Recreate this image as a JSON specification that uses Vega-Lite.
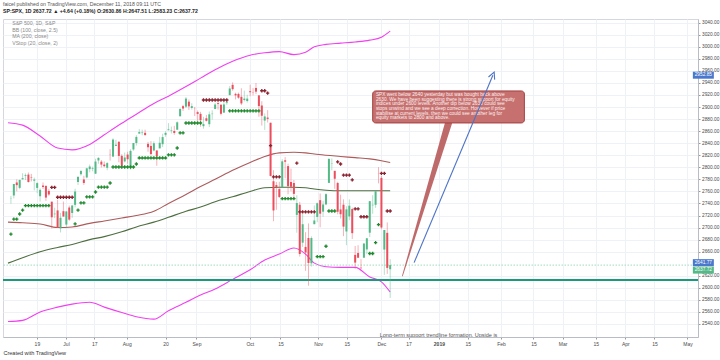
{
  "$schema": "https://vega.github.io/schema/vega-lite/v6.json",
  "width": 695,
  "height": 318,
  "autosize": {"type": "none"},
  "padding": {"left": 3, "top": 19, "right": 22, "bottom": 23},
  "background": "#ffffff",
  "config": {
    "font": "Liberation Sans",
    "view": {"stroke": "#d4d7dd", "strokeWidth": 1},
    "axis": {"labelOverlap": false, "labelFlush": false, "labelBound": false}
  },
  "title": {
    "text": "faicel published on TradingView.com, December 11, 2018 09:11 UTC",
    "subtitle": "SP:SPX, 1D  2637.72 \u25b2 +4.64 (+0.18%)  O:2630.86 H:2647.51 L:2583.23 C:2637.72",
    "anchor": "start",
    "frame": "group",
    "fontSize": 5.2,
    "fontWeight": "normal",
    "color": "#555555",
    "subtitleFontSize": 5.2,
    "subtitleFontWeight": "bold",
    "subtitleColor": "#222222",
    "subtitlePadding": 1.5,
    "offset": 5
  },
  "datasets": {
    "candles": [
      {"i": -10, "d": "2018-06-05", "o": 2748.46, "h": 2752.61, "l": 2739.51, "c": 2748.80, "vs": 2689, "vt": "up"},
      {"i": -9, "d": "2018-06-06", "o": 2753.25, "h": 2772.39, "l": 2748.46, "c": 2772.35, "vs": 2714, "vt": "up"},
      {"i": -8, "d": "2018-06-07", "o": 2774.84, "h": 2779.90, "l": 2760.16, "c": 2770.37, "vs": 2714, "vt": "up"},
      {"i": -7, "d": "2018-06-08", "o": 2765.84, "h": 2779.39, "l": 2763.59, "c": 2779.03, "vs": 2722.5, "vt": "up"},
      {"i": -6, "d": "2018-06-11", "o": 2780.18, "h": 2790.21, "l": 2779.39, "c": 2782.00, "vs": 2729, "vt": "up"},
      {"i": -5, "d": "2018-06-12", "o": 2785.60, "h": 2789.80, "l": 2778.78, "c": 2786.85, "vs": 2736.3, "vt": "up"},
      {"i": -4, "d": "2018-06-13", "o": 2787.94, "h": 2791.47, "l": 2774.65, "c": 2775.63, "vs": 2736.3, "vt": "up"},
      {"i": -3, "d": "2018-06-14", "o": 2783.21, "h": 2789.06, "l": 2776.52, "c": 2782.49, "vs": 2736.3, "vt": "up"},
      {"i": -2, "d": "2018-06-15", "o": 2777.78, "h": 2782.81, "l": 2761.73, "c": 2779.66, "vs": 2736.3, "vt": "up"},
      {"i": -1, "d": "2018-06-18", "o": 2765.79, "h": 2774.99, "l": 2757.12, "c": 2773.75, "vs": 2736.3, "vt": "up"},
      {"i": 0, "d": "2018-06-19", "o": 2752.01, "h": 2765.05, "l": 2743.19, "c": 2762.59, "vs": 2736.3, "vt": "up"},
      {"i": 1, "d": "2018-06-20", "o": 2769.73, "h": 2774.86, "l": 2763.91, "c": 2767.32, "vs": 2736.3, "vt": "up"},
      {"i": 2, "d": "2018-06-21", "o": 2769.28, "h": 2769.28, "l": 2744.39, "c": 2749.76, "vs": 2736.3, "vt": "up"},
      {"i": 3, "d": "2018-06-22", "o": 2760.79, "h": 2764.17, "l": 2752.68, "c": 2754.88, "vs": 2736.3, "vt": "up"},
      {"i": 4, "d": "2018-06-25", "o": 2742.94, "h": 2742.94, "l": 2698.67, "c": 2717.07, "vs": 2766.8, "vt": "down"},
      {"i": 5, "d": "2018-06-26", "o": 2722.12, "h": 2732.91, "l": 2715.60, "c": 2723.06, "vs": 2766.8, "vt": "down"},
      {"i": 6, "d": "2018-06-27", "o": 2728.45, "h": 2746.09, "l": 2699.38, "c": 2699.63, "vs": 2750.3, "vt": "down"},
      {"i": 7, "d": "2018-06-28", "o": 2698.69, "h": 2724.34, "l": 2691.99, "c": 2716.31, "vs": 2750.3, "vt": "down"},
      {"i": 8, "d": "2018-06-29", "o": 2727.13, "h": 2743.26, "l": 2718.03, "c": 2718.37, "vs": 2750.3, "vt": "down"},
      {"i": 9, "d": "2018-07-02", "o": 2704.95, "h": 2727.26, "l": 2698.95, "c": 2726.71, "vs": 2750.3, "vt": "down"},
      {"i": 10, "d": "2018-07-03", "o": 2733.27, "h": 2736.58, "l": 2711.16, "c": 2713.22, "vs": 2750.3, "vt": "down"},
      {"i": 11, "d": "2018-07-05", "o": 2724.19, "h": 2737.83, "l": 2716.02, "c": 2736.61, "vs": 2750.3, "vt": "down"},
      {"i": 12, "d": "2018-07-06", "o": 2737.68, "h": 2764.41, "l": 2733.52, "c": 2759.82, "vs": 2706, "vt": "up"},
      {"i": 13, "d": "2018-07-09", "o": 2775.62, "h": 2784.65, "l": 2770.73, "c": 2784.17, "vs": 2729, "vt": "up"},
      {"i": 14, "d": "2018-07-10", "o": 2788.56, "h": 2795.58, "l": 2786.24, "c": 2793.84, "vs": 2741, "vt": "up"},
      {"i": 15, "d": "2018-07-11", "o": 2779.82, "h": 2785.91, "l": 2770.77, "c": 2774.02, "vs": 2741, "vt": "up"},
      {"i": 16, "d": "2018-07-12", "o": 2783.14, "h": 2799.22, "l": 2781.53, "c": 2798.29, "vs": 2750.8, "vt": "up"},
      {"i": 17, "d": "2018-07-13", "o": 2796.93, "h": 2804.53, "l": 2791.69, "c": 2801.31, "vs": 2750.8, "vt": "up"},
      {"i": 18, "d": "2018-07-16", "o": 2797.36, "h": 2801.19, "l": 2793.39, "c": 2798.43, "vs": 2750.8, "vt": "up"},
      {"i": 19, "d": "2018-07-17", "o": 2789.34, "h": 2814.19, "l": 2789.24, "c": 2809.55, "vs": 2759, "vt": "up"},
      {"i": 20, "d": "2018-07-18", "o": 2811.35, "h": 2816.76, "l": 2805.89, "c": 2815.62, "vs": 2767, "vt": "up"},
      {"i": 21, "d": "2018-07-19", "o": 2809.37, "h": 2812.05, "l": 2799.77, "c": 2804.49, "vs": 2767, "vt": "up"},
      {"i": 22, "d": "2018-07-20", "o": 2804.55, "h": 2809.70, "l": 2800.01, "c": 2801.83, "vs": 2767, "vt": "up"},
      {"i": 23, "d": "2018-07-23", "o": 2799.17, "h": 2808.61, "l": 2795.14, "c": 2806.98, "vs": 2767, "vt": "up"},
      {"i": 24, "d": "2018-07-24", "o": 2820.68, "h": 2829.99, "l": 2811.12, "c": 2820.40, "vs": 2774, "vt": "up"},
      {"i": 25, "d": "2018-07-25", "o": 2817.73, "h": 2848.03, "l": 2817.73, "c": 2846.07, "vs": 2800.5, "vt": "up"},
      {"i": 26, "d": "2018-07-26", "o": 2835.49, "h": 2845.57, "l": 2835.26, "c": 2837.44, "vs": 2800.5, "vt": "up"},
      {"i": 27, "d": "2018-07-27", "o": 2842.35, "h": 2843.17, "l": 2808.34, "c": 2818.82, "vs": 2800.5, "vt": "up"},
      {"i": 28, "d": "2018-07-30", "o": 2819.00, "h": 2821.74, "l": 2798.11, "c": 2802.60, "vs": 2800.5, "vt": "up"},
      {"i": 29, "d": "2018-07-31", "o": 2809.73, "h": 2824.46, "l": 2808.06, "c": 2816.29, "vs": 2800.5, "vt": "up"},
      {"i": 30, "d": "2018-08-01", "o": 2821.17, "h": 2825.83, "l": 2805.85, "c": 2813.36, "vs": 2800.5, "vt": "up"},
      {"i": 31, "d": "2018-08-02", "o": 2800.48, "h": 2829.91, "l": 2796.34, "c": 2827.22, "vs": 2800.5, "vt": "up"},
      {"i": 32, "d": "2018-08-03", "o": 2829.62, "h": 2840.38, "l": 2827.37, "c": 2840.35, "vs": 2800.5, "vt": "up"},
      {"i": 33, "d": "2018-08-06", "o": 2840.29, "h": 2853.29, "l": 2835.98, "c": 2850.40, "vs": 2805.5, "vt": "up"},
      {"i": 34, "d": "2018-08-07", "o": 2855.92, "h": 2863.43, "l": 2855.92, "c": 2858.45, "vs": 2815.5, "vt": "up"},
      {"i": 35, "d": "2018-08-08", "o": 2856.79, "h": 2862.44, "l": 2853.09, "c": 2857.70, "vs": 2815.5, "vt": "up"},
      {"i": 36, "d": "2018-08-09", "o": 2857.19, "h": 2862.48, "l": 2851.98, "c": 2853.58, "vs": 2815.5, "vt": "up"},
      {"i": 37, "d": "2018-08-10", "o": 2838.90, "h": 2842.20, "l": 2825.81, "c": 2833.28, "vs": 2815.5, "vt": "up"},
      {"i": 38, "d": "2018-08-13", "o": 2835.46, "h": 2843.40, "l": 2819.88, "c": 2821.93, "vs": 2815.5, "vt": "up"},
      {"i": 39, "d": "2018-08-14", "o": 2827.88, "h": 2843.11, "l": 2826.58, "c": 2839.96, "vs": 2815.5, "vt": "up"},
      {"i": 40, "d": "2018-08-15", "o": 2827.95, "h": 2827.95, "l": 2802.49, "c": 2818.37, "vs": 2815.5, "vt": "up"},
      {"i": 41, "d": "2018-08-16", "o": 2831.44, "h": 2850.49, "l": 2831.44, "c": 2840.69, "vs": 2815.5, "vt": "up"},
      {"i": 42, "d": "2018-08-17", "o": 2838.32, "h": 2855.63, "l": 2833.73, "c": 2850.13, "vs": 2815.5, "vt": "up"},
      {"i": 43, "d": "2018-08-20", "o": 2853.93, "h": 2859.76, "l": 2850.62, "c": 2857.05, "vs": 2815.5, "vt": "up"},
      {"i": 44, "d": "2018-08-21", "o": 2861.51, "h": 2873.23, "l": 2861.32, "c": 2862.96, "vs": 2820.5, "vt": "up"},
      {"i": 45, "d": "2018-08-22", "o": 2860.99, "h": 2867.54, "l": 2856.05, "c": 2861.82, "vs": 2820.5, "vt": "up"},
      {"i": 46, "d": "2018-08-23", "o": 2860.29, "h": 2868.78, "l": 2854.03, "c": 2856.98, "vs": 2820.5, "vt": "up"},
      {"i": 47, "d": "2018-08-24", "o": 2862.35, "h": 2876.16, "l": 2862.35, "c": 2874.69, "vs": 2832, "vt": "up"},
      {"i": 48, "d": "2018-08-27", "o": 2884.69, "h": 2898.25, "l": 2884.69, "c": 2896.74, "vs": 2857, "vt": "up"},
      {"i": 49, "d": "2018-08-28", "o": 2901.45, "h": 2903.77, "l": 2893.50, "c": 2897.52, "vs": 2857, "vt": "up"},
      {"i": 50, "d": "2018-08-29", "o": 2900.62, "h": 2916.50, "l": 2898.40, "c": 2914.04, "vs": 2873.5, "vt": "up"},
      {"i": 51, "d": "2018-08-30", "o": 2908.94, "h": 2912.46, "l": 2895.22, "c": 2901.13, "vs": 2873.5, "vt": "up"},
      {"i": 52, "d": "2018-08-31", "o": 2898.37, "h": 2906.32, "l": 2895.77, "c": 2901.52, "vs": 2873.5, "vt": "up"},
      {"i": 53, "d": "2018-09-04", "o": 2896.96, "h": 2900.18, "l": 2885.13, "c": 2896.72, "vs": 2873.5, "vt": "up"},
      {"i": 54, "d": "2018-09-05", "o": 2891.59, "h": 2894.21, "l": 2876.92, "c": 2888.60, "vs": 2873.5, "vt": "up"},
      {"i": 55, "d": "2018-09-06", "o": 2888.64, "h": 2892.05, "l": 2867.29, "c": 2878.05, "vs": 2873.5, "vt": "up"},
      {"i": 56, "d": "2018-09-07", "o": 2868.26, "h": 2883.81, "l": 2864.12, "c": 2871.68, "vs": 2911.7, "vt": "down"},
      {"i": 57, "d": "2018-09-10", "o": 2881.39, "h": 2886.93, "l": 2875.94, "c": 2877.13, "vs": 2911.7, "vt": "down"},
      {"i": 58, "d": "2018-09-11", "o": 2871.57, "h": 2892.52, "l": 2866.78, "c": 2887.89, "vs": 2911.7, "vt": "down"},
      {"i": 59, "d": "2018-09-12", "o": 2888.29, "h": 2894.65, "l": 2879.20, "c": 2888.92, "vs": 2911.7, "vt": "down"},
      {"i": 60, "d": "2018-09-13", "o": 2896.85, "h": 2906.76, "l": 2896.39, "c": 2904.18, "vs": 2911.7, "vt": "down"},
      {"i": 61, "d": "2018-09-14", "o": 2906.38, "h": 2908.30, "l": 2895.77, "c": 2904.98, "vs": 2911.7, "vt": "down"},
      {"i": 62, "d": "2018-09-17", "o": 2903.83, "h": 2904.65, "l": 2886.16, "c": 2888.80, "vs": 2911.7, "vt": "down"},
      {"i": 63, "d": "2018-09-18", "o": 2890.74, "h": 2911.17, "l": 2890.43, "c": 2904.31, "vs": 2911.7, "vt": "down"},
      {"i": 64, "d": "2018-09-19", "o": 2906.60, "h": 2912.36, "l": 2903.82, "c": 2907.95, "vs": 2911.7, "vt": "down"},
      {"i": 65, "d": "2018-09-20", "o": 2919.73, "h": 2934.80, "l": 2919.73, "c": 2930.75, "vs": 2893.5, "vt": "up"},
      {"i": 66, "d": "2018-09-21", "o": 2936.76, "h": 2940.91, "l": 2927.11, "c": 2929.67, "vs": 2893.5, "vt": "up"},
      {"i": 67, "d": "2018-09-24", "o": 2921.83, "h": 2923.79, "l": 2912.63, "c": 2919.37, "vs": 2893.5, "vt": "up"},
      {"i": 68, "d": "2018-09-25", "o": 2921.75, "h": 2923.95, "l": 2913.70, "c": 2915.56, "vs": 2893.5, "vt": "up"},
      {"i": 69, "d": "2018-09-26", "o": 2916.98, "h": 2931.15, "l": 2903.28, "c": 2905.97, "vs": 2893.5, "vt": "up"},
      {"i": 70, "d": "2018-09-27", "o": 2911.65, "h": 2927.22, "l": 2909.27, "c": 2914.00, "vs": 2893.5, "vt": "up"},
      {"i": 71, "d": "2018-09-28", "o": 2910.03, "h": 2920.53, "l": 2907.50, "c": 2913.98, "vs": 2893.5, "vt": "up"},
      {"i": 72, "d": "2018-10-01", "o": 2926.29, "h": 2937.06, "l": 2917.91, "c": 2924.59, "vs": 2893.5, "vt": "up"},
      {"i": 73, "d": "2018-10-02", "o": 2923.80, "h": 2931.42, "l": 2919.37, "c": 2923.43, "vs": 2893.5, "vt": "up"},
      {"i": 74, "d": "2018-10-03", "o": 2931.69, "h": 2939.86, "l": 2921.36, "c": 2925.51, "vs": 2893.5, "vt": "up"},
      {"i": 75, "d": "2018-10-04", "o": 2919.35, "h": 2919.78, "l": 2883.92, "c": 2901.61, "vs": 2893.5, "vt": "up"},
      {"i": 76, "d": "2018-10-05", "o": 2902.54, "h": 2909.64, "l": 2869.29, "c": 2885.57, "vs": 2927, "vt": "down"},
      {"i": 77, "d": "2018-10-08", "o": 2877.53, "h": 2889.45, "l": 2862.08, "c": 2884.43, "vs": 2927, "vt": "down"},
      {"i": 78, "d": "2018-10-09", "o": 2882.51, "h": 2894.83, "l": 2874.27, "c": 2880.34, "vs": 2923, "vt": "down"},
      {"i": 79, "d": "2018-10-10", "o": 2873.90, "h": 2874.02, "l": 2784.86, "c": 2785.68, "vs": 2836, "vt": "down"},
      {"i": 80, "d": "2018-10-11", "o": 2776.87, "h": 2795.14, "l": 2710.51, "c": 2728.37, "vs": 2784, "vt": "down"},
      {"i": 81, "d": "2018-10-12", "o": 2770.54, "h": 2775.77, "l": 2729.44, "c": 2767.13, "vs": 2784, "vt": "down"},
      {"i": 82, "d": "2018-10-15", "o": 2763.83, "h": 2775.99, "l": 2749.03, "c": 2750.79, "vs": 2784, "vt": "down"},
      {"i": 83, "d": "2018-10-16", "o": 2767.05, "h": 2813.46, "l": 2766.91, "c": 2809.92, "vs": 2748, "vt": "up"},
      {"i": 84, "d": "2018-10-17", "o": 2811.67, "h": 2816.94, "l": 2781.81, "c": 2809.21, "vs": 2748, "vt": "up"},
      {"i": 85, "d": "2018-10-18", "o": 2802.00, "h": 2806.04, "l": 2755.18, "c": 2768.78, "vs": 2748, "vt": "up"},
      {"i": 86, "d": "2018-10-19", "o": 2775.66, "h": 2797.77, "l": 2760.27, "c": 2767.78, "vs": 2748, "vt": "up"},
      {"i": 87, "d": "2018-10-22", "o": 2773.94, "h": 2778.94, "l": 2749.22, "c": 2755.88, "vs": 2748, "vt": "up"},
      {"i": 88, "d": "2018-10-23", "o": 2721.03, "h": 2753.59, "l": 2691.43, "c": 2740.69, "vs": 2807, "vt": "down"},
      {"i": 89, "d": "2018-10-24", "o": 2737.87, "h": 2742.59, "l": 2651.89, "c": 2656.10, "vs": 2726, "vt": "down"},
      {"i": 90, "d": "2018-10-25", "o": 2674.88, "h": 2722.70, "l": 2667.84, "c": 2705.57, "vs": 2726, "vt": "down"},
      {"i": 91, "d": "2018-10-26", "o": 2667.86, "h": 2692.38, "l": 2628.16, "c": 2658.69, "vs": 2726, "vt": "down"},
      {"i": 92, "d": "2018-10-29", "o": 2682.65, "h": 2706.85, "l": 2603.54, "c": 2641.25, "vs": 2726, "vt": "down"},
      {"i": 93, "d": "2018-10-30", "o": 2640.68, "h": 2685.43, "l": 2635.34, "c": 2682.63, "vs": 2726, "vt": "down"},
      {"i": 94, "d": "2018-10-31", "o": 2705.60, "h": 2736.69, "l": 2705.60, "c": 2711.74, "vs": 2726, "vt": "down"},
      {"i": 95, "d": "2018-11-01", "o": 2717.58, "h": 2741.67, "l": 2708.85, "c": 2740.37, "vs": 2651.7, "vt": "up"},
      {"i": 96, "d": "2018-11-02", "o": 2745.45, "h": 2756.55, "l": 2700.44, "c": 2723.06, "vs": 2651.7, "vt": "up"},
      {"i": 97, "d": "2018-11-05", "o": 2726.37, "h": 2744.27, "l": 2717.94, "c": 2738.31, "vs": 2651.7, "vt": "up"},
      {"i": 98, "d": "2018-11-06", "o": 2738.40, "h": 2756.82, "l": 2737.08, "c": 2755.45, "vs": 2669, "vt": "up"},
      {"i": 99, "d": "2018-11-07", "o": 2774.13, "h": 2815.15, "l": 2774.13, "c": 2813.89, "vs": 2727.5, "vt": "up"},
      {"i": 100, "d": "2018-11-08", "o": 2806.38, "h": 2814.75, "l": 2794.99, "c": 2806.83, "vs": 2727.5, "vt": "up"},
      {"i": 101, "d": "2018-11-09", "o": 2794.10, "h": 2794.10, "l": 2764.24, "c": 2781.01, "vs": 2727.5, "vt": "up"},
      {"i": 102, "d": "2018-11-12", "o": 2773.93, "h": 2775.99, "l": 2722.00, "c": 2726.22, "vs": 2809, "vt": "down"},
      {"i": 103, "d": "2018-11-13", "o": 2730.05, "h": 2754.60, "l": 2714.98, "c": 2722.18, "vs": 2805.5, "vt": "down"},
      {"i": 104, "d": "2018-11-14", "o": 2737.90, "h": 2746.80, "l": 2685.75, "c": 2701.58, "vs": 2787, "vt": "down"},
      {"i": 105, "d": "2018-11-15", "o": 2693.52, "h": 2735.38, "l": 2670.75, "c": 2730.20, "vs": 2787, "vt": "down"},
      {"i": 106, "d": "2018-11-16", "o": 2718.54, "h": 2746.75, "l": 2712.16, "c": 2736.27, "vs": 2787, "vt": "down"},
      {"i": 107, "d": "2018-11-19", "o": 2730.74, "h": 2733.16, "l": 2681.09, "c": 2690.73, "vs": 2779, "vt": "down"},
      {"i": 108, "d": "2018-11-20", "o": 2654.60, "h": 2669.44, "l": 2631.52, "c": 2641.89, "vs": 2731, "vt": "down"},
      {"i": 109, "d": "2018-11-21", "o": 2657.74, "h": 2670.73, "l": 2649.82, "c": 2649.93, "vs": 2731, "vt": "down"},
      {"i": 110, "d": "2018-11-23", "o": 2633.36, "h": 2647.55, "l": 2631.09, "c": 2632.56, "vs": 2718, "vt": "down"},
      {"i": 111, "d": "2018-11-26", "o": 2649.97, "h": 2674.35, "l": 2649.97, "c": 2673.45, "vs": 2718, "vt": "down"},
      {"i": 112, "d": "2018-11-27", "o": 2663.75, "h": 2682.53, "l": 2655.89, "c": 2682.17, "vs": 2718, "vt": "down"},
      {"i": 113, "d": "2018-11-28", "o": 2691.45, "h": 2744.00, "l": 2684.38, "c": 2743.79, "vs": 2657, "vt": "up"},
      {"i": 114, "d": "2018-11-29", "o": 2736.97, "h": 2753.75, "l": 2722.94, "c": 2737.80, "vs": 2657, "vt": "up"},
      {"i": 115, "d": "2018-11-30", "o": 2737.76, "h": 2760.88, "l": 2732.76, "c": 2760.17, "vs": 2675, "vt": "up"},
      {"i": 116, "d": "2018-12-03", "o": 2790.50, "h": 2800.18, "l": 2773.38, "c": 2790.37, "vs": 2705, "vt": "up"},
      {"i": 117, "d": "2018-12-04", "o": 2782.43, "h": 2785.93, "l": 2697.18, "c": 2700.06, "vs": 2790, "vt": "down"},
      {"i": 118, "d": "2018-12-06", "o": 2663.51, "h": 2696.15, "l": 2621.53, "c": 2695.95, "vs": 2790, "vt": "down"},
      {"i": 119, "d": "2018-12-07", "o": 2691.26, "h": 2708.54, "l": 2623.14, "c": 2633.08, "vs": 2727.5, "vt": "down"},
      {"i": 120, "d": "2018-12-10", "o": 2630.86, "h": 2647.51, "l": 2583.23, "c": 2637.72, "vs": 2727.5, "vt": "down"}
    ],
    "bands": [
      {"i": -11, "up": 2874, "mid": 2709, "lo": 2544, "ma": 2641},
      {"i": -6, "up": 2870, "mid": 2708, "lo": 2546, "ma": 2650},
      {"i": 0, "up": 2852, "mid": 2706, "lo": 2560, "ma": 2660},
      {"i": 6, "up": 2832, "mid": 2700, "lo": 2568, "ma": 2667},
      {"i": 11, "up": 2829, "mid": 2701, "lo": 2573, "ma": 2672},
      {"i": 17, "up": 2838, "mid": 2707, "lo": 2576, "ma": 2680},
      {"i": 22, "up": 2854, "mid": 2711, "lo": 2568, "ma": 2685},
      {"i": 28, "up": 2873, "mid": 2716, "lo": 2559, "ma": 2693},
      {"i": 33, "up": 2888, "mid": 2720, "lo": 2552, "ma": 2701},
      {"i": 39, "up": 2906, "mid": 2727, "lo": 2548, "ma": 2709},
      {"i": 44, "up": 2918, "mid": 2740, "lo": 2562, "ma": 2717},
      {"i": 50, "up": 2934, "mid": 2755, "lo": 2576, "ma": 2727},
      {"i": 55, "up": 2948, "mid": 2768, "lo": 2588, "ma": 2734},
      {"i": 60, "up": 2962, "mid": 2780, "lo": 2598, "ma": 2743},
      {"i": 66, "up": 2976, "mid": 2795, "lo": 2614, "ma": 2751},
      {"i": 72, "up": 2986, "mid": 2808, "lo": 2630, "ma": 2760},
      {"i": 77, "up": 2990, "mid": 2818, "lo": 2646, "ma": 2766},
      {"i": 82, "up": 2992, "mid": 2824, "lo": 2656, "ma": 2767},
      {"i": 87, "up": 2987, "mid": 2825, "lo": 2666, "ma": 2767},
      {"i": 91, "up": 2991, "mid": 2824, "lo": 2656, "ma": 2766},
      {"i": 94, "up": 3000, "mid": 2822, "lo": 2641, "ma": 2764},
      {"i": 98, "up": 3004, "mid": 2820, "lo": 2635, "ma": 2762},
      {"i": 103, "up": 3006, "mid": 2818, "lo": 2634, "ma": 2761},
      {"i": 108, "up": 3008, "mid": 2816, "lo": 2634, "ma": 2761},
      {"i": 113, "up": 3011, "mid": 2814, "lo": 2618, "ma": 2761},
      {"i": 117, "up": 3016, "mid": 2811, "lo": 2610, "ma": 2761},
      {"i": 120, "up": 3026, "mid": 2808, "lo": 2593, "ma": 2761}
    ],
    "tail": [
      {"i": 140.0, "p": 2873.6},
      {"i": 124.2, "p": 2619.7}
    ],
    "arrow": [
      {"i": 128.2, "p": 2641.77},
      {"i": 155.2, "p": 2952.85}
    ],
    "tags": [
      {"p": 2952.85, "k": "arrow"},
      {"p": 2641.77, "k": "arrow"},
      {"p": 2637.72, "k": "last"}
    ],
    "legend": [
      {"name": "S&P 500, 1D, S&P"},
      {"name": "BB (100, close, 2.5)"},
      {"name": "MA (200, close)"},
      {"name": "VStop (20, close, 2)"}
    ]
  },
  "layer": [
    {
      "data": {"name": "bands"},
      "mark": {"type": "line", "color": "#f040f0", "strokeWidth": 1.1, "interpolate": "monotone", "clip": true},
      "encoding": {
        "x": {
          "field": "i", "type": "quantitative", "title": "Created with TradingView",
          "scale": {"domain": [-11, 223.8], "nice": false, "zero": false},
          "axis": {
            "orient": "bottom",
            "values": [-1.1, 8.9, 18.6, 29.7, 43, 53.6, 71.9, 82.4, 95.3, 105.1, 117, 126.3, 136.7, 146.6, 158, 169.1, 179.1, 190.5, 200.6, 210.6, 221.9],
            "tickCount": 200,
            "labelExpr": "['19','Jul','17','Aug','20','Sep','Oct','15','Nov','15','Dec','17','2019','15','Feb','15','Mar','15','Apr','15','May'][indexof([-1.1, 8.9, 18.6, 29.7, 43, 53.6, 71.9, 82.4, 95.3, 105.1, 117, 126.3, 136.7, 146.6, 158, 169.1, 179.1, 190.5, 200.6, 210.6, 221.9], datum.value)]",
            "labelFontSize": 5,
            "labelColor": "#4a4a4a",
            "labelFontWeight": {"condition": {"test": "datum.value == 136.7", "value": "bold"}, "value": "normal"},
            "labelPadding": 2,
            "labelOverlap": false,
            "labelFlush": false,
            "tickSize": 2,
            "tickColor": "#9a9a9a",
            "domainColor": "#b8bcc4",
            "grid": true,
            "gridColor": "#eef1f6",
            "titleFontSize": 5.5,
            "titleFontWeight": "normal",
            "titleColor": "#333333",
            "titleAnchor": "start",
            "titleAlign": "left",
            "titlePadding": 4
          }
        },
        "y": {
          "field": "up", "type": "quantitative", "title": null,
          "scale": {"domain": [2518.4, 3046.1], "nice": false, "zero": false},
          "axis": {
            "orient": "right",
            "values": [2540, 2560, 2580, 2600, 2620, 2660, 2680, 2700, 2720, 2740, 2760, 2780, 2800, 2820, 2840, 2860, 2880, 2900, 2920, 2940, 2960, 2980, 3000, 3020, 3040],
            "tickCount": 200,
            "format": ".2f",
            "labelFontSize": 4.8,
            "labelColor": "#4a4a4a",
            "labelPadding": 1.5,
            "labelOverlap": false,
            "tickSize": 2,
            "tickColor": "#9a9a9a",
            "domainColor": "#b8bcc4",
            "grid": true,
            "gridColor": "#eef1f6"
          }
        }
      }
    },
    {
      "data": {"name": "bands"},
      "mark": {"type": "line", "color": "#f040f0", "strokeWidth": 1.1, "interpolate": "monotone", "clip": true},
      "encoding": {
        "x": {"field": "i", "type": "quantitative", "title": "Created with TradingView", "scale": {"domain": [-11, 223.8], "nice": false, "zero": false}},
        "y": {"field": "lo", "type": "quantitative", "title": null, "scale": {"domain": [2518.4, 3046.1], "nice": false, "zero": false}}
      }
    },
    {
      "data": {"name": "bands"},
      "mark": {"type": "line", "color": "#a34848", "strokeWidth": 1.1, "interpolate": "monotone", "clip": true, "opacity": 0.9},
      "encoding": {
        "x": {"field": "i", "type": "quantitative", "title": "Created with TradingView", "scale": {"domain": [-11, 223.8], "nice": false, "zero": false}},
        "y": {"field": "mid", "type": "quantitative", "title": null, "scale": {"domain": [2518.4, 3046.1], "nice": false, "zero": false}}
      }
    },
    {
      "data": {"name": "bands"},
      "mark": {"type": "line", "color": "#4e6e3f", "strokeWidth": 1.1, "interpolate": "monotone", "clip": true},
      "encoding": {
        "x": {"field": "i", "type": "quantitative", "title": "Created with TradingView", "scale": {"domain": [-11, 223.8], "nice": false, "zero": false}},
        "y": {"field": "ma", "type": "quantitative", "title": null, "scale": {"domain": [2518.4, 3046.1], "nice": false, "zero": false}}
      }
    },
    {
      "data": {"values": [{}]},
      "mark": {"type": "rule", "color": "#1a9a7c", "strokeWidth": 2},
      "encoding": {
        "y": {"datum": 2613, "type": "quantitative", "title": null, "scale": {"domain": [2518.4, 3046.1], "nice": false, "zero": false}}
      }
    },
    {
      "data": {"values": [{}]},
      "mark": {"type": "rule", "color": "#9fdcbc", "strokeWidth": 1, "strokeDash": [1.5, 1.5]},
      "encoding": {
        "y": {"datum": 2637.72, "type": "quantitative", "title": null, "scale": {"domain": [2518.4, 3046.1], "nice": false, "zero": false}}
      }
    },
    {
      "data": {"name": "candles"},
      "mark": {"type": "rule", "strokeWidth": 0.8, "opacity": 0.55, "clip": true},
      "encoding": {
        "x": {"field": "i", "type": "quantitative", "title": "Created with TradingView", "scale": {"domain": [-11, 223.8], "nice": false, "zero": false}},
        "y": {"field": "l", "type": "quantitative", "title": null, "scale": {"domain": [2518.4, 3046.1], "nice": false, "zero": false}},
        "y2": {"field": "h"},
        "color": {"condition": {"test": "datum.c >= datum.o", "value": "#53b987"}, "value": "#eb4d5c"}
      }
    },
    {
      "data": {"name": "candles"},
      "mark": {"type": "bar", "size": 2, "clip": true},
      "encoding": {
        "x": {"field": "i", "type": "quantitative", "title": "Created with TradingView", "scale": {"domain": [-11, 223.8], "nice": false, "zero": false}},
        "y": {"field": "o", "type": "quantitative", "title": null, "scale": {"domain": [2518.4, 3046.1], "nice": false, "zero": false}},
        "y2": {"field": "c"},
        "color": {"condition": {"test": "datum.c >= datum.o", "value": "#53b987"}, "value": "#eb4d5c"}
      }
    },
    {
      "data": {"name": "candles"},
      "mark": {"type": "point", "shape": "cross", "filled": true, "size": 11, "opacity": 1, "clip": true},
      "encoding": {
        "x": {"field": "i", "type": "quantitative", "title": "Created with TradingView", "scale": {"domain": [-11, 223.8], "nice": false, "zero": false}},
        "y": {"field": "vs", "type": "quantitative", "title": null, "scale": {"domain": [2518.4, 3046.1], "nice": false, "zero": false}},
        "color": {"condition": {"test": "datum.vt == 'up'", "value": "#1f8a2e"}, "value": "#8b2330"}
      }
    },
    {
      "data": {"name": "tail"},
      "mark": {"type": "trail", "color": "#b85a5a", "opacity": 0.9, "clip": true},
      "encoding": {
        "x": {"field": "i", "type": "quantitative", "title": "Created with TradingView", "scale": {"domain": [-11, 223.8], "nice": false, "zero": false}},
        "y": {"field": "p", "type": "quantitative", "title": null, "scale": {"domain": [2518.4, 3046.1], "nice": false, "zero": false}},
        "size": {"condition": {"test": "datum.p > 2800", "value": 7}, "value": 0.8}
      }
    },
    {
      "data": {"values": [{}]},
      "mark": {"type": "rect", "fill": "#c6716f", "stroke": "#a33f3f", "strokeWidth": 1, "cornerRadius": 3},
      "encoding": {
        "x": {"datum": 114.0, "type": "quantitative", "title": "Created with TradingView", "scale": {"domain": [-11, 223.8], "nice": false, "zero": false}},
        "x2": {"datum": 166.0},
        "y": {"datum": 2926.7, "type": "quantitative", "title": null, "scale": {"domain": [2518.4, 3046.1], "nice": false, "zero": false}},
        "y2": {"datum": 2873.6}
      }
    },
    {
      "data": {"values": [{}]},
      "mark": {"type": "text", "align": "left", "baseline": "top", "fontSize": 4.8, "lineHeight": 4.7, "color": "#fdf0f0"},
      "encoding": {
        "x": {"datum": 115.1, "type": "quantitative", "title": "Created with TradingView", "scale": {"domain": [-11, 223.8], "nice": false, "zero": false}},
        "y": {"datum": 2925.0, "type": "quantitative", "title": null, "scale": {"domain": [2518.4, 3046.1], "nice": false, "zero": false}},
        "text": {"value": [
          "SPX went below 2640 yesterday but was bought back above",
          "2630. We have been suggesting there is strong support for equity",
          "indices under 2600 levels. Another dip below 2630 could see",
          "stops unwind and we see a deep correction. However if price",
          "stabilise at current levels, then we could see another leg for",
          "equity markets to 2800 and above."
        ]}
      }
    },
    {
      "data": {"name": "arrow"},
      "mark": {"type": "line", "color": "#4d73c7", "strokeWidth": 1.1, "clip": true},
      "encoding": {
        "x": {"field": "i", "type": "quantitative", "title": "Created with TradingView", "scale": {"domain": [-11, 223.8], "nice": false, "zero": false}},
        "y": {"field": "p", "type": "quantitative", "title": null, "scale": {"domain": [2518.4, 3046.1], "nice": false, "zero": false}}
      }
    },
    {
      "data": {"name": "arrow"},
      "transform": [{"filter": "datum.p > 2900"}],
      "mark": {"type": "point", "shape": "M-1,1L0,-1L1,1", "filled": false, "strokeWidth": 1.1, "size": 45, "angle": 23, "opacity": 1, "color": "#4d73c7"},
      "encoding": {
        "x": {"field": "i", "type": "quantitative", "title": "Created with TradingView", "scale": {"domain": [-11, 223.8], "nice": false, "zero": false}},
        "y": {"field": "p", "type": "quantitative", "title": null, "scale": {"domain": [2518.4, 3046.1], "nice": false, "zero": false}}
      }
    },
    {
      "data": {"values": [{}]},
      "mark": {"type": "text", "align": "left", "baseline": "middle", "fontSize": 5.5, "color": "#555555", "clip": true},
      "encoding": {
        "x": {"datum": 116.4, "type": "quantitative", "title": "Created with TradingView", "scale": {"domain": [-11, 223.8], "nice": false, "zero": false}},
        "y": {"datum": 2520.9, "type": "quantitative", "title": null, "scale": {"domain": [2518.4, 3046.1], "nice": false, "zero": false}},
        "text": {"value": "Long-term support trendline formation. Upside is"}
      }
    },
    {
      "data": {"name": "tags"},
      "transform": [{"filter": "datum.k == 'arrow'"}],
      "mark": {"type": "tick", "orient": "horizontal", "size": 21, "thickness": 7, "color": "#4a78cc", "opacity": 1, "clip": false},
      "encoding": {
        "x": {"datum": 227.35, "type": "quantitative", "title": "Created with TradingView", "scale": {"domain": [-11, 223.8], "nice": false, "zero": false}},
        "y": {"field": "p", "type": "quantitative", "title": null, "scale": {"domain": [2518.4, 3046.1], "nice": false, "zero": false}}
      }
    },
    {
      "data": {"name": "tags"},
      "transform": [{"filter": "datum.k == 'last'"}],
      "mark": {"type": "tick", "orient": "horizontal", "size": 21, "thickness": 7, "color": "#53b987", "opacity": 1, "clip": false, "yOffset": 5},
      "encoding": {
        "x": {"datum": 227.35, "type": "quantitative", "title": "Created with TradingView", "scale": {"domain": [-11, 223.8], "nice": false, "zero": false}},
        "y": {"field": "p", "type": "quantitative", "title": null, "scale": {"domain": [2518.4, 3046.1], "nice": false, "zero": false}}
      }
    },
    {
      "data": {"name": "tags"},
      "transform": [{"filter": "datum.k == 'arrow'"}],
      "mark": {"type": "text", "align": "center", "baseline": "middle", "fontSize": 4.8, "color": "#ffffff", "clip": false},
      "encoding": {
        "x": {"datum": 227.35, "type": "quantitative", "title": "Created with TradingView", "scale": {"domain": [-11, 223.8], "nice": false, "zero": false}},
        "y": {"field": "p", "type": "quantitative", "title": null, "scale": {"domain": [2518.4, 3046.1], "nice": false, "zero": false}},
        "text": {"field": "p", "type": "quantitative", "format": ".2f"}
      }
    },
    {
      "data": {"name": "tags"},
      "transform": [{"filter": "datum.k == 'last'"}],
      "mark": {"type": "text", "align": "center", "baseline": "middle", "fontSize": 4.8, "color": "#ffffff", "clip": false, "yOffset": 5},
      "encoding": {
        "x": {"datum": 227.35, "type": "quantitative", "title": "Created with TradingView", "scale": {"domain": [-11, 223.8], "nice": false, "zero": false}},
        "y": {"field": "p", "type": "quantitative", "title": null, "scale": {"domain": [2518.4, 3046.1], "nice": false, "zero": false}},
        "text": {"field": "p", "type": "quantitative", "format": ".2f"}
      }
    },
    {
      "data": {"name": "legend"},
      "mark": {"type": "point", "opacity": 0},
      "encoding": {
        "shape": {
          "field": "name", "type": "nominal",
          "scale": {"domain": ["S&P 500, 1D, S&P", "BB (100, close, 2.5)", "MA (200, close)", "VStop (20, close, 2)"]},
          "legend": {
            "orient": "none",
            "legendX": 4,
            "legendY": 1,
            "title": null,
            "padding": 0,
            "symbolSize": 0,
            "symbolOpacity": 0,
            "symbolStrokeWidth": 0,
            "labelOffset": 0,
            "labelFontSize": 5.2,
            "labelColor": "#8a8a8a",
            "labelLimit": 300,
            "rowPadding": 0.9,
            "encode": {
              "labels": {
                "update": {
                  "fill": {"signal": "datum.label == 'S&P 500, 1D, S&P' ? '#333333' : '#8a8a8a'"}
                }
              }
            }
          }
        }
      }
    }
  ]
}
